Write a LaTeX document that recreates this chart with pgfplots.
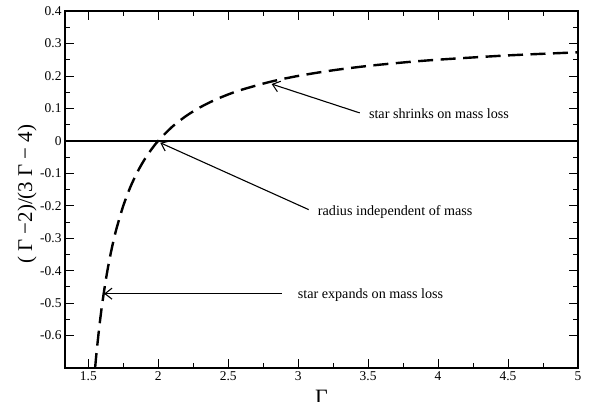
\documentclass[border=0pt]{standalone}
\usepackage{fontspec}
\setmainfont{Liberation Serif}
\usepackage{pgfplots}
\pgfplotsset{compat=1.18}
\usetikzlibrary{arrows.meta}

\begin{document}
\begin{tikzpicture}
\begin{axis}[
  scale only axis,
  width=513bp,
  height=357bp,
  xmin=1.3333, xmax=5,
  ymin=-0.7, ymax=0.4,
  xtick={1.5,2,...,5},
  ytick={-0.6,-0.5,...,0.41},
  minor x tick num=1,
  minor y tick num=1,
  tick align=inside,
  major tick length=9bp,
  minor tick length=5bp,
  axis line style={line width=1.6bp},
  every tick/.style={black, line width=0.8bp},
  tick label style={font=\fontsize{13.5}{15}\selectfont},
  /pgf/number format/assume math mode=true,
  /pgf/number format/fixed,
  xlabel={Γ},
  xlabel style={font=\fontsize{22}{24}\selectfont, at={(rel axis cs:0.5,0)}, anchor=north, inner sep=0pt, yshift=-22bp},
  ylabel={( Γ −2)/(3 Γ − 4)},
  ylabel style={font=\fontsize{21}{23}\selectfont, at={(rel axis cs:-0.074,0.487)}, anchor=center},
  clip=true,
]
\addplot[black, line width=1.6bp, forget plot] coordinates {(1.3333,0) (5,0)};
\addplot[black, line width=2.4bp, dash pattern=on 15bp off 7.5bp, smooth] coordinates {
  (1.5484,-0.7) (1.56,-0.6471) (1.58,-0.5676) (1.60,-0.5) (1.625,-0.4286)
  (1.65,-0.3684) (1.675,-0.3171) (1.70,-0.2727) (1.75,-0.2) (1.80,-0.1429)
  (1.85,-0.0968) (1.90,-0.0588) (1.95,-0.0270) (2.0,0) (2.1,0.0435)
  (2.2,0.0769) (2.3,0.1034) (2.4,0.125) (2.5,0.1429) (2.6,0.1579)
  (2.8,0.1818) (3.0,0.2) (3.25,0.2174) (3.5,0.2308) (3.75,0.2414)
  (4.0,0.25) (4.5,0.2632) (5.0,0.2727)
};
% annotations
\draw[-{Straight Barb[length=7bp,width=11bp]}, line width=1.1bp] (axis cs:3.44,0.086) -- (axis cs:2.81,0.175);
\node[anchor=west, inner sep=0pt, font=\fontsize{14.2}{16}\selectfont] at (axis cs:3.505,0.083) {star shrinks on mass loss};
\draw[-{Straight Barb[length=7bp,width=11bp]}, line width=1.1bp] (axis cs:3.075,-0.212) -- (axis cs:2.014,-0.006);
\node[anchor=west, inner sep=0pt, font=\fontsize{14.2}{16}\selectfont] at (axis cs:3.14,-0.218) {radius independent of mass};
\draw[-{Straight Barb[length=7bp,width=11bp]}, line width=1.1bp] (axis cs:2.882,-0.471) -- (axis cs:1.613,-0.471);
\node[anchor=west, inner sep=0pt, font=\fontsize{14.2}{16}\selectfont] at (axis cs:2.996,-0.474) {star expands on mass loss};
\end{axis}
\pgfresetboundingbox
\path[use as bounding box] (-65bp,-34bp) rectangle (526bp,368bp);
\end{tikzpicture}
\end{document}
